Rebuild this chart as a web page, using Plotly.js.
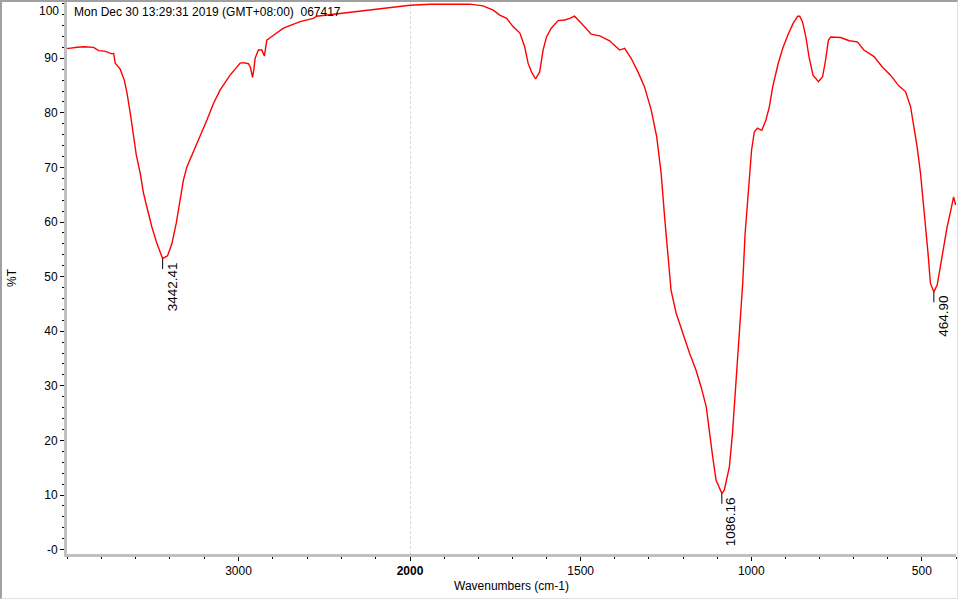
<!DOCTYPE html>
<html>
<head>
<meta charset="utf-8">
<script src="https://cdn.plot.ly/plotly-3.0.1.min.js"></script>
<style>
html,body{margin:0;padding:0;background:#fff;}
#chart{width:960px;height:600px;}
#frame{position:absolute;left:0;top:0;width:958px;height:599px;box-sizing:border-box;
  border-left:2px solid #a0a0a0;border-top:2px solid #a0a0a0;
  border-right:1px solid #e3e3e3;border-bottom:1px solid #e3e3e3;pointer-events:none;}
</style>
</head>
<body>
<div id="chart"></div>
<div id="frame"></div>
<script>
// ---- data ----
const wavenumbers = [
  4000, 3990, 3940, 3900, 3845, 3816, 3780, 3738, 3728, 3719, 3705, 3690, 3666, 3650, 3631,
  3615, 3596, 3573, 3554, 3530, 3505, 3476, 3456, 3442.41, 3425, 3414, 3400, 3388, 3363, 3340,
  3321, 3301, 3262, 3223, 3184, 3146, 3107, 3049, 2990, 2975, 2942, 2930, 2918, 2910, 2903,
  2884, 2864, 2849, 2835, 2796, 2738, 2641, 2563, 2544, 2427, 2310, 2194, 2078, 2000,
  1941, 1883, 1825, 1786, 1756, 1737, 1717, 1698, 1678, 1664, 1654, 1644, 1632, 1620, 1610,
  1600, 1586, 1566, 1547, 1532, 1518, 1498, 1469, 1444, 1415, 1386, 1371, 1352, 1332, 1313,
  1293, 1277, 1264, 1254, 1245, 1235, 1220, 1201, 1181, 1162, 1147, 1132, 1123, 1113, 1103,
  1086.16, 1079, 1064, 1055, 1045, 1035, 1025, 1018, 1008, 999, 991, 982, 969, 957, 947,
  937, 922, 908, 893, 878, 864, 858, 850, 840, 830, 819, 803, 791, 782, 774,
  767, 738, 713, 689, 670, 640, 616, 592, 567, 548, 533, 523, 514, 504, 496,
  490, 482, 475, 464.90, 455, 446, 436, 426, 416, 407, 401
];
const transmittance = [
  91.8, 91.8, 92.0, 92.1, 92.0, 91.4, 91.3, 90.8, 90.9, 89.1, 88.6, 88.0, 86.0, 83.6, 79.9,
  76.2, 72.3, 68.9, 65.3, 62.2, 59.1, 56.1, 54.4, 53.3, 53.6, 53.8, 55.0, 56.1, 59.8, 64.6,
  67.7, 70.1, 72.9, 75.6, 78.7, 81.7, 84.2, 86.9, 89.1, 89.2, 89.0, 88.3, 86.5, 88.0, 90.0,
  91.5, 91.5, 90.4, 93.3, 94.2, 95.5, 96.7, 97.3, 97.7, 98.1, 98.5, 99.0, 99.4, 99.7,
  99.9, 99.9, 99.9, 99.6, 98.8, 97.9, 97.3, 95.8, 94.6, 92.1, 89.1, 87.5, 86.2, 87.5, 91.5,
  93.9, 95.5, 96.9, 97.0, 97.3, 97.7, 96.4, 94.4, 94.1, 93.2, 91.5, 91.8, 90.0, 87.5, 84.8,
  80.5, 75.6, 68.9, 61.0, 54.3, 47.5, 43.3, 39.6, 36.0, 32.9, 29.8, 26.2, 21.3, 17.0, 12.7,
  10.3, 10.9, 15.2, 21.3, 30.5, 39.6, 48.8, 57.9, 65.9, 73.2, 76.5, 77.2, 76.8, 78.7, 81.1,
  84.8, 88.8, 91.8, 94.2, 96.3, 97.7, 97.7, 96.7, 93.9, 90.0, 86.9, 85.7, 86.6, 89.7, 93.3,
  93.9, 93.8, 93.2, 93.0, 91.5, 90.3, 88.4, 86.9, 84.9, 83.9, 81.1, 77.5, 73.8, 68.9, 64.0,
  59.1, 54.3, 48.8, 47.2, 48.5, 51.8, 55.5, 59.1, 61.9, 64.6, 63.1
];
const peakWavenumbers = [3442.41, 1086.16, 464.90];
const peakValues = [53.3, 10.3, 47.2];
const peakLabels = ['3442.41', '1086.16', '464.90'];

const yTickValues = [0, 10, 20, 30, 40, 50, 60, 70, 80, 90];
const yTickLabels = ['-0', '10', '20', '30', '40', '50', '60', '70', '80', '90'];
const yTopLabel = '100';
const xTickValuesHigh = [3000];
const xTickLabelsHigh = ['3000'];
const xTickValuesLow = [2000, 1500, 1000, 500];
const xTickLabelsLow = ['<b>2000</b>', '1500', '1000', '500'];
const headerText = 'Mon Dec 30 13:29:31 2019 (GMT+08:00)\u00a0\u00a0067417';
const xTitleText = 'Wavenumbers (cm-1)';
const yTitleText = '%T';

// ---- split spectrum at the 2000 cm-1 scale change ----
const hiX = [], hiY = [], loX = [], loY = [];
wavenumbers.forEach((w, i) => {
  if (w >= 2000) { hiX.push(w); hiY.push(transmittance[i]); }
  if (w <= 2000) { loX.push(w); loY.push(transmittance[i]); }
});

const lineStyle = {color: '#ff0000', width: 1.4};
const traces = [
  {x: hiX, y: hiY, xaxis: 'x', yaxis: 'y', mode: 'lines', line: lineStyle, hoverinfo: 'skip'},
  {x: loX, y: loY, xaxis: 'x2', yaxis: 'y', mode: 'lines', line: lineStyle, hoverinfo: 'skip'}
];

const split = (410 - 67) / 889;
const axisCommon = {
  showline: true, linecolor: '#c0c0c0', linewidth: 3, showgrid: false, zeroline: false,
  ticks: 'outside', ticklen: 4, tickwidth: 1, tickcolor: '#000', fixedrange: true,
  tickfont: {size: 12, color: '#000'}
};

const annotations = [
  {xref: 'paper', yref: 'paper', x: 5 / 889, y: 1, xanchor: 'left', yanchor: 'top', yshift: -1,
   text: headerText, showarrow: false, font: {size: 12, color: '#000'}},
  {xref: 'paper', yref: 'paper', x: 0.5, y: 0, xanchor: 'center', yanchor: 'middle', yshift: -32,
   text: xTitleText, showarrow: false, font: {size: 12, color: '#000'}},
  {xref: 'paper', yref: 'paper', x: -55 / 889, y: 0.5, xanchor: 'center', yanchor: 'middle', textangle: -90,
   text: yTitleText, showarrow: false, font: {size: 12, color: '#000'}},
  {xref: 'paper', yref: 'paper', x: 0, y: 1, xanchor: 'right', yanchor: 'middle', xshift: -6, yshift: -9,
   text: yTopLabel, showarrow: false, font: {size: 12, color: '#000'}}
];
const shapes = [
  {type: 'line', xref: 'x2', yref: 'paper', x0: 2000, x1: 2000, y0: 0, y1: 1, layer: 'below',
   line: {color: '#b8b8b8', width: 1, dash: '3px,2px'}}
];
peakWavenumbers.forEach((w, i) => {
  const xr = w >= 2000 ? 'x' : 'x2';
  annotations.push({xref: xr, yref: 'y', x: w, y: peakValues[i], text: peakLabels[i], textangle: -90,
    xanchor: 'left', yanchor: 'top', xshift: 0, yshift: -2, showarrow: false, font: {size: 13.5, color: '#000'}});
  shapes.push({type: 'line', xref: xr, yref: 'y', x0: w, x1: w, y0: peakValues[i], y1: peakValues[i] - 1.9,
    line: {color: '#000', width: 1}});
});

const layout = {
  width: 960, height: 600,
  margin: {l: 67, r: 4, t: 2, b: 46, pad: 0},
  paper_bgcolor: '#ffffff', plot_bgcolor: '#ffffff',
  showlegend: false,
  font: {family: 'Liberation Sans, Arial, sans-serif', size: 12, color: '#000'},
  xaxis: Object.assign({}, axisCommon, {
    domain: [0, split], range: [4000, 2000], anchor: 'y',
    tickmode: 'array', tickvals: xTickValuesHigh, ticktext: xTickLabelsHigh,
    minor: {tickmode: 'linear', tick0: 0, dtick: 200, ticks: 'outside', ticklen: 2, tickcolor: '#000', showgrid: false}
  }),
  xaxis2: Object.assign({}, axisCommon, {
    domain: [split, 1], range: [2000, 400], anchor: 'y',
    tickmode: 'array', tickvals: xTickValuesLow, ticktext: xTickLabelsLow,
    minor: {tickmode: 'linear', tick0: 0, dtick: 100, ticks: 'outside', ticklen: 2, tickcolor: '#000', showgrid: false}
  }),
  yaxis: Object.assign({}, axisCommon, {
    range: [-0.8, 100.3], anchor: 'x',
    tickmode: 'array', tickvals: yTickValues, ticktext: yTickLabels,
    minor: {tickmode: 'linear', tick0: 0, dtick: 2, ticks: 'outside', ticklen: 2, tickcolor: '#000', showgrid: false}
  }),
  annotations: annotations,
  shapes: shapes
};

Plotly.newPlot('chart', traces, layout, {staticPlot: true, displayModeBar: false});
</script>
</body>
</html>
